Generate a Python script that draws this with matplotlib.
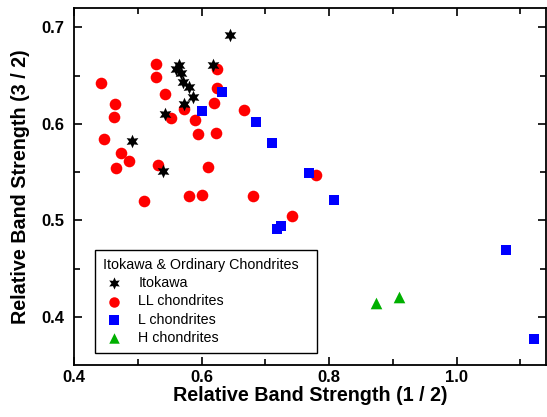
import numpy as np
import matplotlib
matplotlib.use('Agg')
import matplotlib.pyplot as plt

plt.rcParams['font.family'] = ['Liberation Sans', 'DejaVu Sans']

# Itokawa
ito_x = [0.645, 0.565, 0.560, 0.567, 0.571, 0.580, 0.586, 0.573, 0.542, 0.618, 0.491, 0.539]
ito_y = [0.692, 0.661, 0.657, 0.653, 0.643, 0.638, 0.628, 0.621, 0.610, 0.661, 0.582, 0.551]

# LL chondrites
ll_x = [0.528, 0.528, 0.443, 0.542, 0.465, 0.462, 0.572, 0.552, 0.589, 0.447,
        0.473, 0.487, 0.466, 0.532, 0.509, 0.580, 0.625, 0.625, 0.620, 0.666,
        0.595, 0.622, 0.610, 0.601, 0.681, 0.742, 0.779]
ll_y = [0.662, 0.648, 0.642, 0.631, 0.620, 0.607, 0.615, 0.606, 0.604, 0.584,
        0.570, 0.561, 0.554, 0.557, 0.520, 0.525, 0.657, 0.637, 0.622, 0.614,
        0.589, 0.590, 0.555, 0.526, 0.525, 0.504, 0.547]

# L chondrites
l_x = [0.632, 0.600, 0.685, 0.710, 0.769, 0.808, 0.725, 0.718, 1.078, 1.121]
l_y = [0.633, 0.613, 0.602, 0.580, 0.549, 0.521, 0.494, 0.491, 0.469, 0.377]

# H chondrites
h_x = [0.873, 0.909]
h_y = [0.414, 0.420]

fig = plt.figure(figsize=(5.47, 4.17), dpi=100)
ax = fig.add_axes([0.1353, 0.1247, 0.8627, 0.8561])

ax.scatter(ito_x, ito_y, marker=(6, 1, 0), s=95, color='black', linewidths=0, label='Itokawa', zorder=4)
ax.scatter(ll_x, ll_y, marker='o', s=70, color='#ff0000', linewidths=0, label='LL chondrites', zorder=3)
ax.scatter(l_x, l_y, marker='s', s=60, color='#0000ff', linewidths=0, label='L chondrites', zorder=3)
ax.scatter(h_x, h_y, marker='^', s=70, color='#00b000', linewidths=0, label='H chondrites', zorder=3)

ax.set_xlim(0.4, 1.14)
ax.set_ylim(0.35, 0.72)
ax.set_xticks([0.4, 0.6, 0.8, 1.0])
ax.set_xticks([0.5, 0.7, 0.9, 1.1], minor=True)
ax.set_yticks([0.4, 0.5, 0.6, 0.7])
ax.set_yticks([0.45, 0.55, 0.65], minor=True)
ax.set_xticklabels(['0.4', '0.6', '0.8', '1.0'])
ax.set_yticklabels(['0.4', '0.5', '0.6', '0.7'])
ax.tick_params(which='both', direction='in', top=True, right=True, width=1.2)
ax.tick_params(which='major', length=6, labelsize=12)
ax.tick_params(axis='y', which='major', pad=7)
ax.tick_params(which='minor', length=4)
for lab in ax.get_xticklabels() + ax.get_yticklabels():
    lab.set_fontweight('bold')
for sp in ax.spines.values():
    sp.set_linewidth(1.3)

ax.set_xlabel('Relative Band Strength (1 / 2)', fontsize=14.2, fontweight='bold', labelpad=1)
ax.set_ylabel('Relative Band Strength (3 / 2)', fontsize=14.2, fontweight='bold', labelpad=8)

leg = ax.legend(title='Itokawa & Ordinary Chondrites', loc='lower left',
                bbox_to_anchor=(0.044, 0.034, 0.47, 0.2), mode='expand', borderaxespad=0,
                fontsize=10.3, title_fontsize=10.3,
                frameon=True, fancybox=False, edgecolor='black', framealpha=1,
                handletextpad=0.9, handlelength=1.6, labelspacing=0.3, borderpad=0.55,
                alignment='left', markerscale=0.9)
leg.get_frame().set_linewidth(1.0)

fig.savefig('out.png', dpi=100)
